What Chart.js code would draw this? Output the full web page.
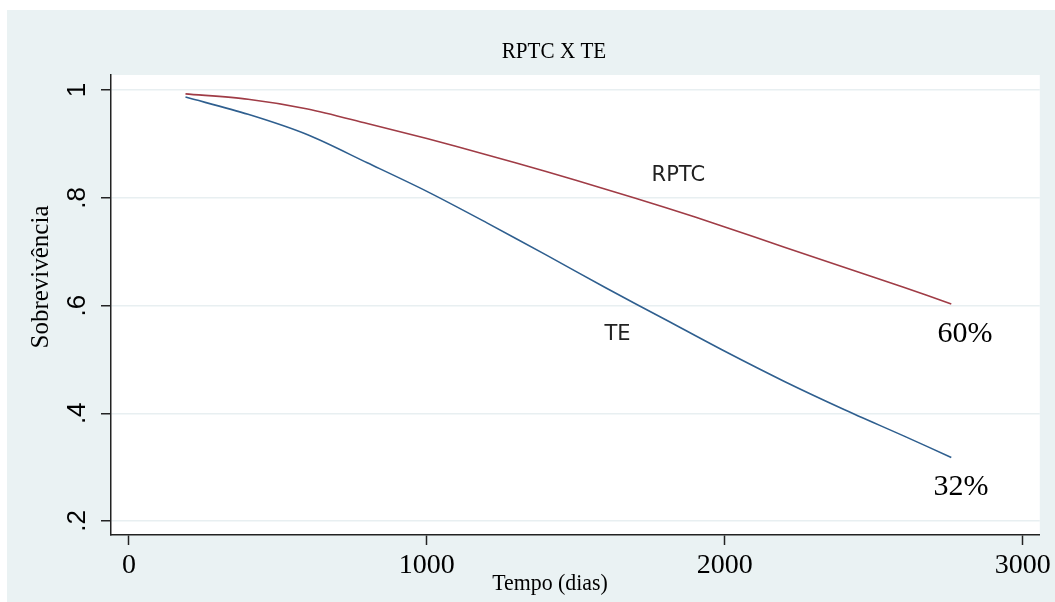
<!DOCTYPE html>
<html>
<head>
<meta charset="utf-8">
<script src="https://cdn.jsdelivr.net/npm/chart.js@4.4.1/dist/chart.umd.min.js"></script>
<style>
    body { margin: 0; background: #ffffff; }
    #wrap { width: 1055px; height: 602px; }
</style>
</head>
<body>
<div id="wrap"><canvas id="chart" width="1055" height="602"></canvas></div>
<script>
// survival curves (tempo em dias)
const tempo = [190, 400, 600, 800, 1000, 1200, 1400, 1600, 1800, 2000, 2200, 2400, 2600, 2760];
const rptc = [0.993, 0.983, 0.965, 0.938, 0.910, 0.880, 0.849, 0.816, 0.782, 0.746, 0.708, 0.671, 0.634, 0.603];
const te = [0.987, 0.955, 0.917, 0.865, 0.812, 0.754, 0.694, 0.633, 0.574, 0.515, 0.459, 0.407, 0.358, 0.318];

const xTicks = [0, 1000, 2000, 3000];
const yTicks = [0.2, 0.4, 0.6, 0.8, 1];

// text labels inside the plot, in data units
const notes = [
    { text: 'RPTC', x: 1844, y: 0.842, font: '21px "DejaVu Sans"', base: 'middle' },
    { text: 'TE', x: 1640, y: 0.547, font: '21px "DejaVu Sans"', base: 'middle' },
    { text: '60%', x: 2806, y: 0.532, font: '30px "Liberation Serif"', base: 'alphabetic' },
    { text: '32%', x: 2793, y: 0.248, font: '30px "Liberation Serif"', base: 'alphabetic' }
];

const bgColor = '#eaf2f3';

const toPoints = (xs, ys) => xs.map((x, i) => ({ x: x, y: ys[i] }));

const background = {
    id: 'background',
    beforeDraw(chart) {
        const ctx = chart.ctx;
        const a = chart.chartArea;
        ctx.save();
        ctx.fillStyle = '#ffffff';
        ctx.fillRect(0, 0, chart.width, chart.height);
        ctx.fillStyle = bgColor;
        ctx.fillRect(7, 10, chart.width - 7, chart.height - 10);
        ctx.fillStyle = '#ffffff';
        ctx.fillRect(a.left, a.top, a.right - a.left, a.bottom - a.top);
        ctx.restore();
    }
};

// condensed serif text, like the original export
function narrowText(ctx, text, x, y, sx) {
    ctx.save();
    ctx.translate(x, y);
    ctx.scale(sx, 1);
    ctx.fillText(text, 0, 0);
    ctx.restore();
}

const texts = {
    id: 'texts',
    afterDraw(chart) {
        const ctx = chart.ctx;
        const xs = chart.scales.x;
        const ys = chart.scales.y;
        ctx.save();
        ctx.fillStyle = '#000000';
        ctx.textAlign = 'center';

        // title
        ctx.font = '24px "Liberation Serif"';
        ctx.textBaseline = 'alphabetic';
        narrowText(ctx, 'RPTC X TE', 554, 58, 0.88);

        // x axis title
        ctx.font = '23px "Liberation Serif"';
        narrowText(ctx, 'Tempo (dias)', 550, 590, 0.95);

        // y axis title
        ctx.save();
        ctx.translate(41, 277);
        ctx.rotate(-Math.PI / 2);
        ctx.font = '25px "Liberation Serif"';
        ctx.textBaseline = 'middle';
        ctx.fillText('Sobrevivência', 0, 0);
        ctx.restore();

        notes.forEach(n => {
            ctx.font = n.font;
            ctx.textBaseline = n.base;
            ctx.fillStyle = n.base === 'middle' ? '#222222' : '#000000';
            ctx.fillText(n.text, xs.getPixelForValue(n.x), ys.getPixelForValue(n.y));
        });
        ctx.restore();
    }
};

const chart = document.getElementById('chart').getContext('2d');

new Chart(chart, {
    type: 'line',
    data: {
        datasets: [{
            label: 'TE',
            data: toPoints(tempo, te),
            borderColor: '#2f5f8f',
            borderWidth: 1.6,
            pointRadius: 0,
            fill: false,
            tension: 0.3
        }, {
            label: 'RPTC',
            data: toPoints(tempo, rptc),
            borderColor: '#a03c46',
            borderWidth: 1.6,
            pointRadius: 0,
            fill: false,
            tension: 0.3
        }]
    },
    options: {
        responsive: false,
        animation: false,
        layout: { padding: { top: 75, right: 11, left: 0, bottom: 0 } },
        plugins: {
            legend: { display: false },
            title: { display: false },
            tooltip: { enabled: false }
        },
        scales: {
            x: {
                type: 'linear',
                min: -60,
                max: 3057,
                afterBuildTicks: s => { s.ticks = xTicks.map(v => ({ value: v })); },
                afterFit: s => { s.height = 67; },
                border: { color: '#222222', width: 1.5 },
                grid: { drawOnChartArea: false, drawTicks: true, tickLength: 10, tickColor: '#222222', tickWidth: 1.5 },
                ticks: {
                    color: '#000000',
                    padding: 4,
                    maxRotation: 0,
                    font: { family: 'Liberation Serif', size: 28 },
                    callback: v => String(v)
                }
            },
            y: {
                type: 'linear',
                min: 0.174,
                max: 1.028,
                afterBuildTicks: s => { s.ticks = yTicks.map(v => ({ value: v })); },
                afterFit: s => { s.width = 111; },
                border: { color: '#222222', width: 1.5 },
                grid: { color: '#e8eff1', lineWidth: 1.5, drawTicks: true, tickLength: 10, tickColor: '#222222', tickWidth: 1.5 },
                ticks: {
                    color: '#000000',
                    padding: 12,
                    minRotation: 90,
                    maxRotation: 90,
                    crossAlign: 'center',
                    font: { family: 'Liberation Sans', size: 26 },
                    callback: v => v === 1 ? '1' : '.' + Math.round(v * 10)
                }
            }
        }
    },
    plugins: [background, texts]
});
</script>
</body>
</html>
